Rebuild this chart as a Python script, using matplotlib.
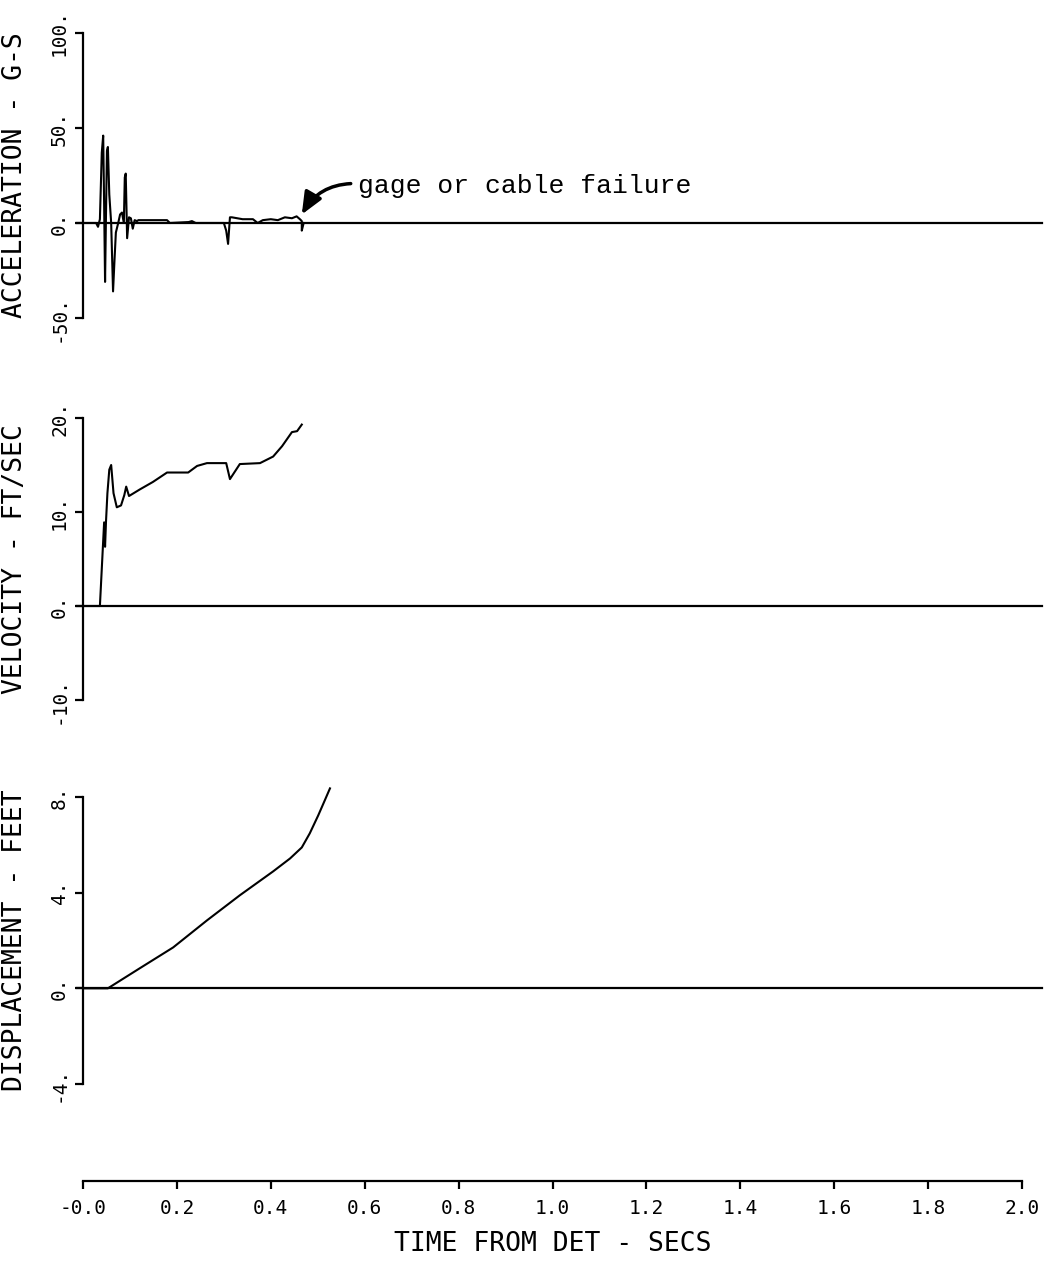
import matplotlib
matplotlib.use("Agg")
import matplotlib.pyplot as plt
import numpy as np

acc_t = [0.000, 0.006, 0.028, 0.032, 0.036, 0.040, 0.043, 0.045, 0.047, 0.049,
         0.051, 0.053, 0.056, 0.060, 0.064, 0.067, 0.070, 0.075, 0.079, 0.083,
         0.087, 0.089, 0.091, 0.094, 0.098, 0.102, 0.106, 0.110, 0.115, 0.118,
         0.179, 0.185, 0.225, 0.232, 0.240, 0.300, 0.305, 0.309, 0.313, 0.317,
         0.340, 0.362, 0.372, 0.383, 0.400, 0.415, 0.430, 0.445, 0.455, 0.462,
         0.466, 0.466, 0.470]
acc_g = [0.0, 0.0, 0.0, -2.0, 2.0, 37.0, 46.0, 10.0, -31.0, 5.0,
         38.0, 40.0, 15.0, 0.0, -36.0, -20.0, -5.0, 0.0, 4.5, 5.5,
         0.0, 24.0, 26.0, -8.0, 3.0, 2.5, -3.0, 1.5, 1.0, 1.5,
         1.5, 0.0, 0.5, 1.0, 0.0, 0.0, -4.0, -11.0, 3.0, 3.0,
         2.0, 2.0, 0.0, 1.5, 2.0, 1.5, 3.0, 2.5, 3.5, 2.0,
         1.0, -4.0, 0.0]

vel_t = [0.000, 0.036, 0.045, 0.047, 0.049, 0.052, 0.056, 0.060, 0.065, 0.072,
         0.081, 0.088, 0.092, 0.098, 0.121, 0.149, 0.179, 0.224, 0.243, 0.264,
         0.305, 0.313, 0.334, 0.377, 0.405, 0.424, 0.445, 0.456, 0.466]
vel_fps = [0.0, 0.0, 8.9, 6.3, 9.0, 12.0, 14.5, 15.0, 12.0, 10.5,
           10.7, 11.8, 12.7, 11.7, 12.4, 13.2, 14.2, 14.2, 14.9, 15.2,
           15.2, 13.5, 15.1, 15.2, 15.9, 17.0, 18.5, 18.6, 19.3]

disp_t = [0.000, 0.053, 0.121, 0.192, 0.264, 0.334, 0.405, 0.441, 0.466, 0.483,
          0.501, 0.515, 0.526]
disp_ft = [0.0, 0.0, 0.84, 1.71, 2.84, 3.89, 4.89, 5.43, 5.89, 6.48,
           7.23, 7.86, 8.36]

panels = [
    ("ACCELERATION - G-S", acc_t, acc_g, [-50, 0, 50, 100],
     ["-50.", "0.", "50.", "100."]),
    ("VELOCITY - FT/SEC", vel_t, vel_fps, [-10, 0, 10, 20],
     ["-10.", "0.", "10.", "20."]),
    ("DISPLACEMENT - FEET", disp_t, disp_ft, [-4, 0, 4, 8],
     ["-4.", "0.", "4.", "8."]),
]

x_ticks = [0.0, 0.2, 0.4, 0.6, 0.8, 1.0, 1.2, 1.4, 1.6, 1.8, 2.0]
x_labels = ["-0.0", "0.2", "0.4", "0.6", "0.8", "1.0", "1.2", "1.4", "1.6", "1.8", "2.0"]

W, H = 1064, 1262
fig = plt.figure(figsize=(W / 100, H / 100), dpi=100)
fig.patch.set_facecolor("white")

mono = "DejaVu Sans Mono"
x0, x1 = 83, 1022
# pixel extents (top, bottom) of each panel's y range
extents = [(33, 318), (418, 700), (797, 1084)]


def frac_rect(top, bottom):
    return [x0 / W, 1 - bottom / H, (x1 - x0) / W, (bottom - top) / H]


axes = []
for (label, t, v, yt, yl), (top, bot) in zip(panels, extents):
    ax = fig.add_axes(frac_rect(top, bot))
    ax.set_xlim(0, 2.0)
    ax.set_ylim(yt[0], yt[-1])
    for s in ["top", "right", "bottom"]:
        ax.spines[s].set_visible(False)
    ax.spines["left"].set_linewidth(1.6)
    ax.set_xticks([])
    ax.set_yticks(yt)
    ax.set_yticklabels(yl, rotation=90, va="center", fontsize=14, family=mono)
    ax.tick_params(axis="y", direction="out", length=6, width=1.6, pad=4)
    ax.plot([-0.013, 2.043], [0, 0], color="black", lw=1.6, clip_on=False)
    ax.plot(t, v, color="black", lw=1.5, clip_on=False)
    ax.text(-0.072, 0.5, label, transform=ax.transAxes, rotation=90,
            ha="center", va="center", fontsize=19, family=mono)
    axes.append(ax)

# gage failure note on the acceleration trace
axes[0].annotate("gage or cable failure", xy=(0.466, 4.5), xytext=(0.585, 19.5),
                 fontsize=19, family="Liberation Mono", ha="left", va="center",
                 arrowprops=dict(arrowstyle="-|>,head_length=0.7,head_width=0.3",
                                 color="black", lw=2.5, relpos=(0, 0.6),
                                 connectionstyle="arc3,rad=0.3",
                                 shrinkA=3, shrinkB=0))

# shared time axis drawn on its own
axx = fig.add_axes([x0 / W, 1 - 1181 / H, (x1 - x0) / W, 0.001])
axx.set_xlim(0, 2.0)
for s in ["top", "right", "left"]:
    axx.spines[s].set_visible(False)
axx.spines["bottom"].set_linewidth(1.6)
axx.set_yticks([])
axx.set_xticks(x_ticks)
axx.set_xticklabels(x_labels, fontsize=14, family=mono)
axx.tick_params(axis="x", direction="out", length=6, width=1.6, pad=7)
axx.set_xlabel("TIME FROM DET - SECS", fontsize=19, family=mono, labelpad=9)

plt.savefig("out.png", dpi=100, facecolor="white")
plt.close()
